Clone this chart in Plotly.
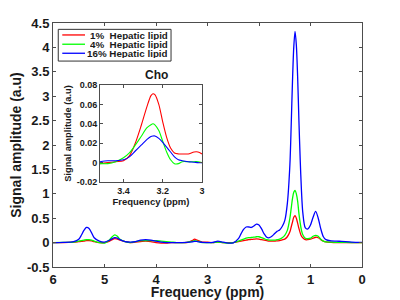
import plotly.graph_objects as go

# ---------------- data ----------------
ppm = [6.0, 5.8, 5.6, 5.5, 5.45, 5.4, 5.35, 5.3, 5.25, 5.2, 5.1, 5.0, 4.9, 4.85, 4.8, 4.75, 4.7,
       4.6, 4.5, 4.4, 4.3, 4.2, 4.1, 4.0, 3.9, 3.8, 3.7, 3.6, 3.5, 3.4, 3.3, 3.25, 3.2, 3.1, 3.0,
       2.9, 2.8, 2.7, 2.6, 2.5, 2.4, 2.35, 2.3, 2.25, 2.2, 2.15, 2.1, 2.05, 2.0, 1.95, 1.9, 1.85,
       1.8, 1.75, 1.7, 1.65, 1.6, 1.55, 1.5, 1.45, 1.4, 1.375, 1.35, 1.325, 1.3, 1.275, 1.25,
       1.225, 1.2, 1.175, 1.15, 1.1, 1.05, 1.0, 0.95, 0.9, 0.85, 0.8, 0.75, 0.7, 0.6, 0.5, 0.4,
       0.2, 0.0]

lipid_1 = [0.0, 0.0, 0.01, 0.02, 0.025, 0.03, 0.04, 0.04, 0.035, 0.02, 0.0, 0.0, 0.03, 0.06, 0.08,
           0.07, 0.05, 0.02, 0.0, 0.01, 0.02, 0.03, 0.02, 0.0, -0.01, -0.01, 0.0, 0.0, 0.0, 0.002,
           0.04, 0.072, 0.05, 0.01, 0.009, 0.0, 0.01, 0.0, 0.0, 0.0, 0.02, 0.03, 0.04, 0.05, 0.06,
           0.065, 0.07, 0.075, 0.07, 0.06, 0.05, 0.04, 0.03, 0.03, 0.03, 0.035, 0.04, 0.055, 0.07,
           0.12, 0.22, 0.32, 0.42, 0.52, 0.55, 0.5, 0.4, 0.29, 0.2, 0.13, 0.1, 0.06, 0.06, 0.07,
           0.09, 0.11, 0.1, 0.06, 0.03, 0.015, 0.005, 0.0, 0.0, 0.0, 0.0]

lipid_4 = [0.0, 0.005, 0.01, 0.03, 0.04, 0.05, 0.06, 0.06, 0.05, 0.03, 0.0, -0.01, 0.06, 0.12, 0.16,
           0.13, 0.07, 0.02, 0.0, 0.02, 0.04, 0.04, 0.04, 0.04, 0.03, 0.02, 0.01, 0.0, 0.0, 0.005,
           0.025, 0.04, 0.028, 0.0, 0.0, 0.0, 0.01, 0.0, -0.01, 0.0, 0.03, 0.05, 0.07, 0.09, 0.1,
           0.105, 0.11, 0.12, 0.12, 0.1, 0.08, 0.06, 0.05, 0.05, 0.05, 0.06, 0.07, 0.1, 0.15, 0.25,
           0.5, 0.7, 0.9, 1.03, 1.07, 1.0, 0.85, 0.6, 0.4, 0.25, 0.16, 0.09, 0.08, 0.09, 0.13, 0.15,
           0.13, 0.07, 0.03, 0.015, 0.01, 0.005, 0.005, 0.0, 0.0]

lipid_16 = [0.0, 0.005, 0.02, 0.07, 0.15, 0.25, 0.31, 0.29, 0.2, 0.1, 0.03, 0.01, 0.05, 0.08, 0.1,
            0.09, 0.06, 0.02, 0.01, 0.02, 0.05, 0.06, 0.05, 0.03, 0.01, 0.0, 0.0, 0.0, 0.0, 0.003,
            0.015, 0.027, 0.022, 0.003, 0.0, 0.005, 0.03, 0.01, -0.01, -0.005, 0.08, 0.18, 0.27,
            0.32, 0.32, 0.31, 0.34, 0.38, 0.36, 0.28, 0.18, 0.11, 0.10, 0.13, 0.18, 0.23, 0.26,
            0.33, 0.45, 0.8, 1.6, 2.4, 3.3, 4.0, 4.33, 4.05, 3.4, 2.5, 1.7, 1.05, 0.62, 0.30, 0.28,
            0.36, 0.52, 0.64, 0.5, 0.28, 0.12, 0.06, 0.035, 0.03, 0.025, 0.01, 0.005]

# Choline inset
ppm_cho = [3.52, 3.48, 3.44, 3.40, 3.37, 3.34, 3.31, 3.28, 3.26, 3.25, 3.24, 3.22, 3.20, 3.18,
           3.16, 3.14, 3.12, 3.10, 3.07, 3.04, 3.02, 3.00]
cho_1 = [-0.001, 0.0, 0.001, 0.002, 0.007, 0.02, 0.038, 0.058, 0.069, 0.071, 0.070, 0.06, 0.042,
         0.026, 0.015, 0.010, 0.009, 0.009, 0.009, 0.011, 0.011, 0.009]
cho_4 = [-0.001, -0.001, 0.001, 0.005, 0.01, 0.018, 0.027, 0.036, 0.039, 0.040, 0.039, 0.033,
         0.022, 0.011, 0.003, -0.001, -0.001, 0.001, 0.001, 0.001, 0.001, 0.0]
cho_16 = [0.001, 0.002, 0.002, 0.003, 0.006, 0.012, 0.018, 0.024, 0.027, 0.0275, 0.0275, 0.025,
          0.021, 0.016, 0.011, 0.006, 0.003, 0.002, 0.001, 0.0005, 0.0, 0.0]

series_names = ["1%\u00a0 Hepatic lipid", "4%\u00a0 Hepatic lipid", "16%\u00a0Hepatic lipid"]
series_colors = ["#ff0000", "#00ff00", "#0000ff"]

main_xticks = [6, 5, 4, 3, 2, 1, 0]
main_yticks = [-0.5, 0, 0.5, 1, 1.5, 2, 2.5, 3, 3.5, 4, 4.5]
main_ytext = ["-0.5", "0", "0.5", "1", "1.5", "2", "2.5", "3", "3.5", "4", "4.5"]
inset_xticks = [3.4, 3.2, 3.0]
inset_xtext = ["3.4", "3.2", "3"]
inset_yticks = [-0.02, 0, 0.02, 0.04, 0.06, 0.08]
inset_ytext = ["-0.02", "0", "0.02", "0.04", "0.06", "0.08"]

# ---------------- figure ----------------
FONT = "Liberation Sans, Arial, Helvetica, sans-serif"
AX = "#4d4d4d"
TXT = "#1a1a1a"

fig = go.Figure()
for ys, name, col in zip([lipid_1, lipid_4, lipid_16], series_names, series_colors):
    fig.add_trace(go.Scatter(x=ppm, y=ys, mode="lines", name=name, showlegend=False,
                             line=dict(color=col, width=1.3, shape="spline", smoothing=0.8),
                             xaxis="x", yaxis="y"))
for ys, name, col in zip([cho_1, cho_4, cho_16], series_names, series_colors):
    fig.add_trace(go.Scatter(x=ppm_cho, y=ys, mode="lines", name=name, showlegend=False,
                             line=dict(color=col, width=1.1, shape="spline", smoothing=0.8),
                             xaxis="x2", yaxis="y2"))

axis_common = dict(showgrid=False, zeroline=False, showline=True, linecolor=AX, linewidth=1,
                   mirror="ticks", ticks="inside", tickcolor=AX, ticklen=3, tickwidth=1,
                   automargin=False)

# the page body adds an 8px offset, so the figure is 8px smaller with that offset removed
fig.update_layout(
    width=392, height=292, template="none",
    paper_bgcolor="white", plot_bgcolor="white",
    margin=dict(l=45, r=38, t=15, b=33, pad=0, autoexpand=False),
    font=dict(family=FONT, color=TXT),
    xaxis=dict(domain=[0, 1], range=[6, 0], tickvals=main_xticks,
               ticktext=[str(v) for v in main_xticks],
               tickfont=dict(size=13, weight="bold", color=TXT),
               title=dict(text="Frequency (ppm)", font=dict(size=14, weight="bold", color=TXT),
                          standoff=5),
               **axis_common),
    yaxis=dict(domain=[0, 1], range=[-0.5, 4.5], tickvals=main_yticks, ticktext=main_ytext,
               tickfont=dict(size=13, weight="bold", color=TXT),
               title=dict(text="Signal amplitude (a.u)", font=dict(size=14, weight="bold", color=TXT),
                          standoff=6),
               **axis_common),
    xaxis2=dict(domain=[0.152, 0.482], range=[3.52, 3.0], anchor="y2",
                tickvals=inset_xticks, ticktext=inset_xtext,
                tickfont=dict(size=9, weight="bold", color=TXT),
                title=dict(text="Frequency (ppm)", font=dict(size=9.5, weight="bold", color=TXT),
                           standoff=1),
                **axis_common),
    yaxis2=dict(domain=[0.348, 0.746], range=[-0.02, 0.08], anchor="x2",
                tickvals=inset_yticks, ticktext=inset_ytext,
                tickfont=dict(size=9, weight="bold", color=TXT),
                title=dict(text="Signal amplitude (a.u)", font=dict(size=9.3, weight="bold", color=TXT),
                           standoff=3),
                **axis_common),
)

# inset title
fig.add_annotation(text="Cho", xref="paper", yref="paper", x=0.335, y=0.748,
                   xanchor="center", yanchor="bottom", showarrow=False,
                   font=dict(size=12, weight="bold", color=TXT))

# legend box drawn as a MATLAB-style legend
fig.add_shape(type="rect", xref="paper", yref="paper", x0=0.017, x1=0.382, y0=0.844, y1=0.974,
              line=dict(color="#333333", width=1), fillcolor="white", layer="above")
row_y = [0.951, 0.913, 0.876]
for name, col, yy in zip(series_names, series_colors, row_y):
    fig.add_shape(type="line", xref="paper", yref="paper", x0=0.030, x1=0.1036, y0=yy, y1=yy,
                  line=dict(color=col, width=1.3), layer="above")
    fig.add_annotation(text=name, xref="paper", yref="paper", x=0.378, y=yy,
                       xanchor="right", yanchor="middle", showarrow=False, height=10,
                       font=dict(size=9.8, weight="bold", color=TXT))

fig.write_html("out.html")
